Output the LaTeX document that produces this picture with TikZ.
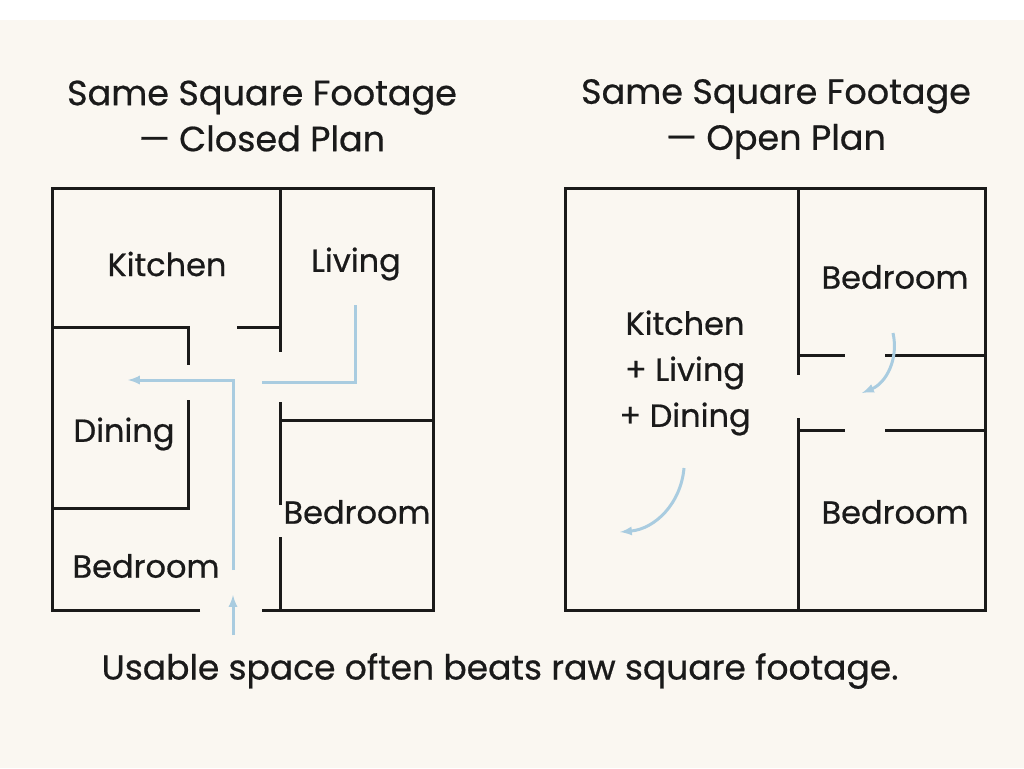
\documentclass[tikz,border=0pt]{standalone}
\usepackage{fontspec}
\setmainfont{Poppins}[FakeBold=0.6]
\definecolor{paper}{HTML}{FAF7F1}
\definecolor{flow}{HTML}{A9CCE0}
\definecolor{ink}{HTML}{1A1A1A}
\begin{document}
\begin{tikzpicture}[x=1pt,y=-1pt]
  \tikzset{wall/.style={draw=ink, line width=3pt},
           path/.style={draw=flow, line width=3pt, -latex},
           plain/.style={draw=flow, line width=3pt},
           room/.style={text=ink, font=\fontsize{32}{46}\selectfont, align=center},
           title/.style={text=ink, font=\fontsize{35}{46}\selectfont, align=center}}
  \fill[white] (0,0) rectangle (1024,768);
  \fill[paper] (0,20) rectangle (1024,768);
  \useasboundingbox (0,0) rectangle (1024,768);
  % titles
  \node[title] (t1) at (262,116) {Same Square Footage\\ --- Closed Plan};
  \node[title] (t2) at (776,119) {Same Square Footage\\ --- Open Plan};
  % closed plan
  \draw[wall] (200,610) -- (52,610) -- (52,188) -- (433,188) -- (433,610) -- (262,610);
  \draw[wall] (280,188) -- (280,352);
  \draw[wall] (237,327) -- (280,327);
  \draw[wall] (52,327) -- (188,327) -- (188,365);
  \draw[wall] (188,400) -- (188,508) -- (52,508);
  \draw[wall] (280,505) -- (280,402);
  \draw[wall] (280,420) -- (433,420);
  \draw[wall] (280,537) -- (280,610);
  \draw[path] (233,570) -- (233,380) -- (128,380);
  \draw[plain] (355,305) -- (355,382) -- (262,382);
  \draw[path] (233,635) -- (233,595);
  \node[room] (kit) at (167,264) {Kitchen};
  \node[room] (liv) at (356,264) {Living};
  \node[room] (din) at (124,434) {Dining};
  \node[room] (bd1) at (146,566) {Bedroom};
  \node[room] (bd2) at (357,512) {Bedroom};
  % open plan
  \draw[wall] (565,188) rectangle (985,610);
  \draw[wall] (798,188) -- (798,375);
  \draw[wall] (798,418) -- (798,610);
  \draw[wall] (798,355) -- (845,355);
  \draw[wall] (885,355) -- (985,355);
  \draw[wall] (798,430) -- (845,430);
  \draw[wall] (885,430) -- (985,430);
  \draw[path] (893,333) to[bend left=40] (862,393);
  \draw[path] (684,468) to[bend left=40] (620,532);
  \node[room] (kld) at (685,373) {Kitchen\\+ Living\\+ Dining};
  \node[room] (bd3) at (895,277) {Bedroom};
  \node[room] (bd4) at (895,512) {Bedroom};
  % caption
  \node[text=ink, font=\fontsize{34.5}{40}\selectfont] (cap) at (500,671) {Usable space often beats raw square footage.};
\end{tikzpicture}
\end{document}
